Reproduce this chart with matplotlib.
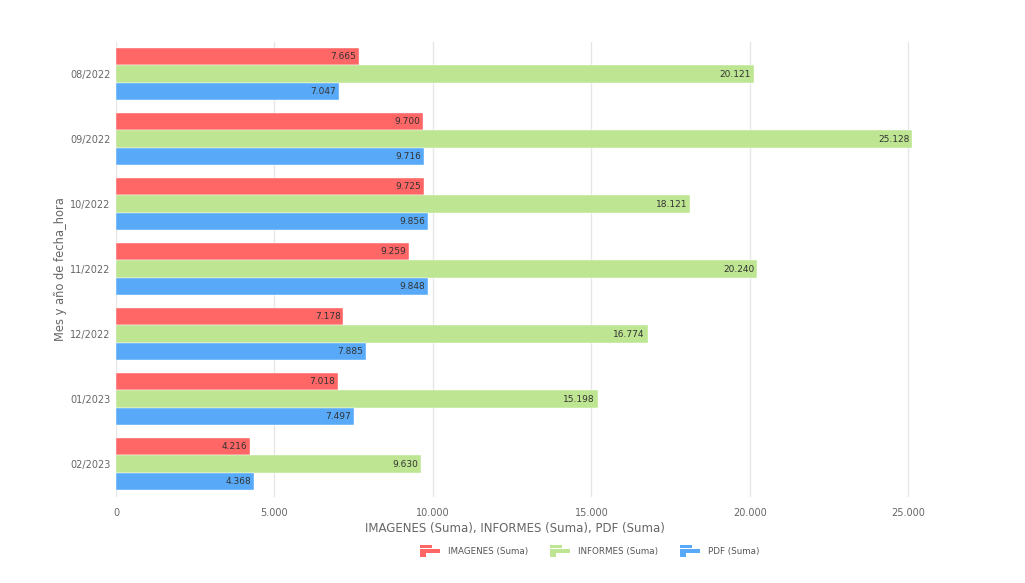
import matplotlib.pyplot as plt
import numpy as np
from matplotlib.legend_handler import HandlerBase
from matplotlib.patches import Rectangle, Patch

months = ["08/2022", "09/2022", "10/2022", "11/2022", "12/2022", "01/2023", "02/2023"]
imagenes = [7665, 9700, 9725, 9259, 7178, 7018, 4216]
informes = [20121, 25128, 18121, 20240, 16774, 15198, 9630]
pdf = [7047, 9716, 9856, 9848, 7885, 7497, 4368]

series = [
    ("IMAGENES (Suma)", imagenes, "#ff6666"),
    ("INFORMES (Suma)", informes, "#bde592"),
    ("PDF (Suma)", pdf, "#58aaf8"),
]


def fmt(v):
    return f"{v:,}".replace(",", ".")


class BarIconHandler(HandlerBase):
    # three staggered bars, like the plotly legend glyph
    def create_artists(self, legend, orig_handle, xd, yd, w, h, fontsize, trans):
        c = orig_handle.get_facecolor()
        x0, y0 = -xd, -yd
        bh = h / 3.3
        gap = 0.15 * bh
        return [
            Rectangle((x0, y0 + 2 * (bh + gap)), w * 0.6, bh, fc=c, ec="none", transform=trans),
            Rectangle((x0, y0 + bh + gap), w, bh, fc=c, ec="none", transform=trans),
            Rectangle((x0, y0), w * 0.3, bh, fc=c, ec="none", transform=trans),
        ]


fig = plt.figure(figsize=(10.25, 5.83), dpi=100)
ax = fig.add_axes([116 / 1025, 86.5 / 583, 797 / 1025, 455 / 583])

y = np.arange(len(months))
bw = 0.8 / 3
for i, (name, vals, col) in enumerate(series):
    pos = y + (i - 1) * bw
    ax.barh(pos, vals, height=bw, color=col, edgecolor="white", linewidth=0.3, label=name)
    for p, v in zip(pos, vals):
        ax.text(v - 90, p, fmt(v), ha="right", va="center", fontsize=6.5, color="#333333")

ax.set_ylim(len(months) - 0.5, -0.5)
ax.set_yticks(y)
ax.set_yticklabels(months)
ax.set_xlim(0, 25150)
ticks = [0, 5000, 10000, 15000, 20000, 25000]
ax.set_xticks(ticks)
ax.set_xticklabels([fmt(t) for t in ticks])
ax.tick_params(axis="y", length=0, labelsize=7, colors="#666666", pad=4)
ax.tick_params(axis="x", length=0, labelsize=7, colors="#666666", pad=8)
ax.grid(axis="x", color="#e6e6e6", linewidth=1)
ax.set_axisbelow(True)
for s in ax.spines.values():
    s.set_visible(False)

ax.set_xlabel("IMAGENES (Suma), INFORMES (Suma), PDF (Suma)", fontsize=8.5, color="#666666", labelpad=3)
ax.set_ylabel("Mes y año de fecha_hora", fontsize=8.3, color="#666666", labelpad=2)

handles = [Patch(facecolor=c) for _, _, c in series]
labels = [n for n, _, _ in series]
fig.legend(handles, labels, loc="center", bbox_to_anchor=(0.575, 0.055), ncol=3, frameon=False,
           fontsize=6.3, labelcolor="#555555", handler_map={Patch: BarIconHandler()},
           handlelength=2.3, handleheight=1.8, columnspacing=2.5, handletextpad=0.9)

fig.savefig("out.png", dpi=100)
